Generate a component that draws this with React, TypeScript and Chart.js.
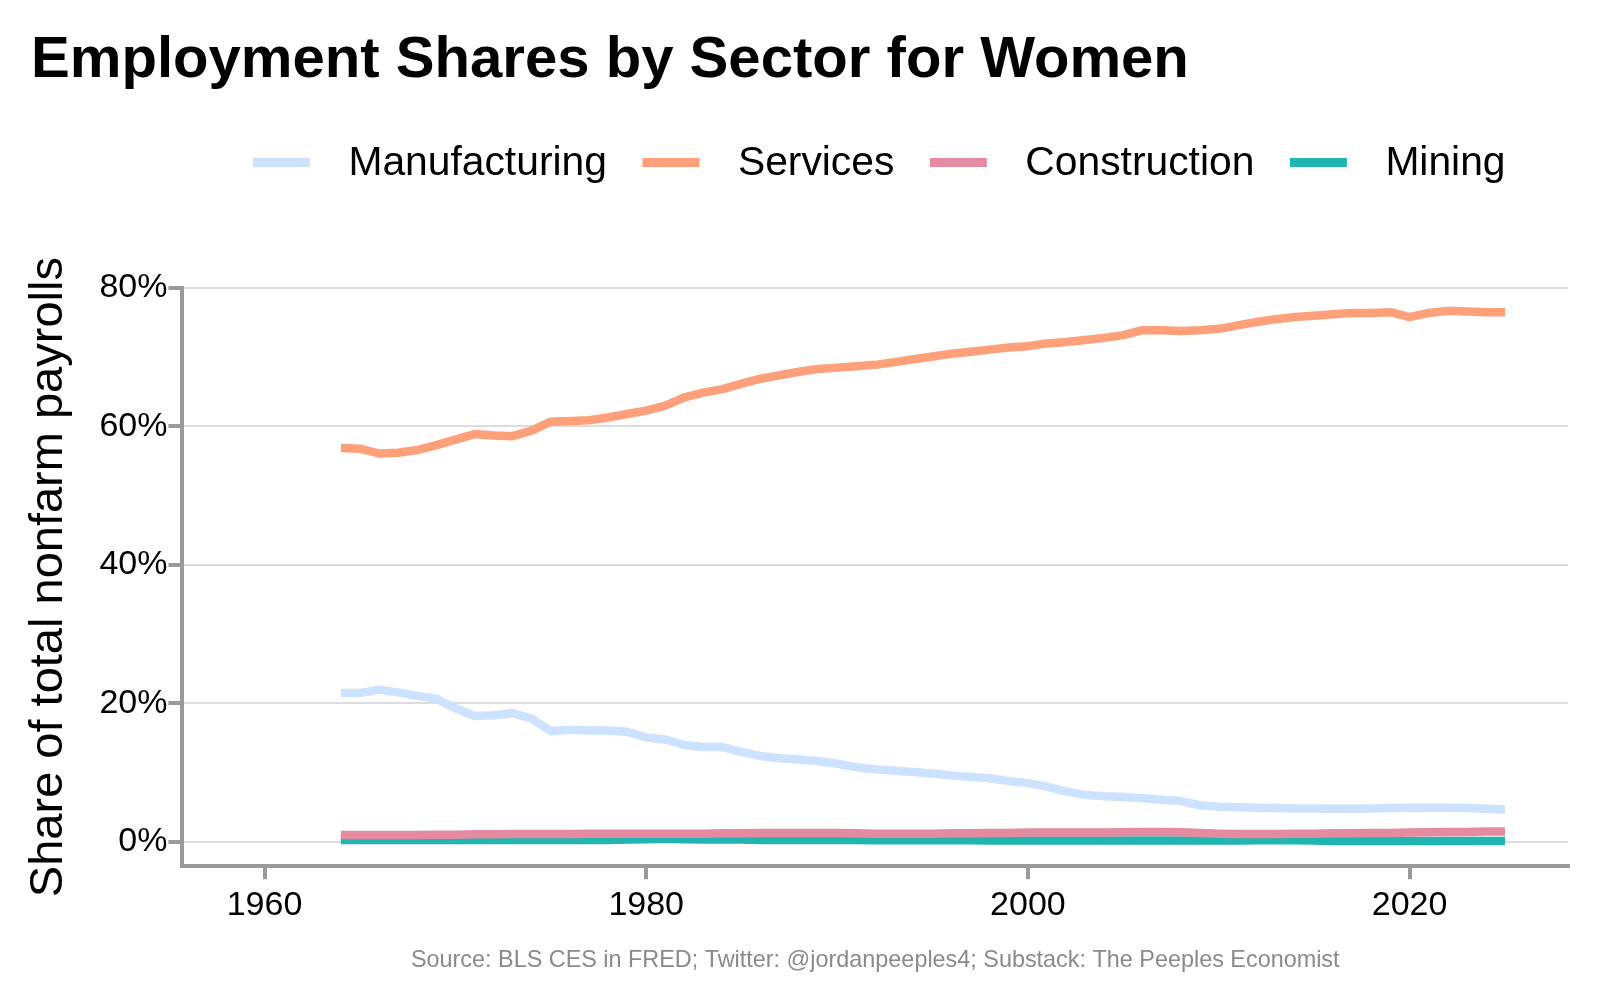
import { useEffect, useRef } from 'react'
import Chart from 'chart.js/auto'

const FONT = '"Liberation Sans", Arial, Helvetica, sans-serif'

const years = [
  1964, 1965, 1966, 1967, 1968, 1969, 1970, 1971, 1972, 1973,
  1974, 1975, 1976, 1977, 1978, 1979, 1980, 1981, 1982, 1983,
  1984, 1985, 1986, 1987, 1988, 1989, 1990, 1991, 1992, 1993,
  1994, 1995, 1996, 1997, 1998, 1999, 2000, 2001, 2002, 2003,
  2004, 2005, 2006, 2007, 2008, 2009, 2010, 2011, 2012, 2013,
  2014, 2015, 2016, 2017, 2018, 2019, 2020, 2021, 2022, 2023,
  2024, 2025
]

// shares of total nonfarm payrolls (%), women
const manufacturing = [
  21.5, 21.5, 22.0, 21.6, 21.1, 20.7, 19.3, 18.2, 18.3, 18.6,
  17.8, 16.0, 16.2, 16.1, 16.1, 15.9, 15.1, 14.8, 14.0, 13.7,
  13.7, 13.0, 12.4, 12.1, 11.9, 11.7, 11.3, 10.8, 10.5, 10.3,
  10.1, 9.9, 9.6, 9.4, 9.2, 8.8, 8.5, 8.0, 7.3, 6.8,
  6.6, 6.5, 6.3, 6.1, 5.9, 5.3, 5.1, 5.0, 4.95, 4.9,
  4.85, 4.85, 4.8, 4.8, 4.85, 4.9, 4.95, 4.95, 4.95, 4.9,
  4.8, 4.7
]

const services = [
  56.9, 56.8, 56.1, 56.2, 56.6, 57.3, 58.1, 58.9, 58.7, 58.6,
  59.4, 60.7, 60.8, 60.9, 61.3, 61.8, 62.3, 63.0, 64.2, 64.9,
  65.4, 66.2, 66.9, 67.4, 67.9, 68.3, 68.5, 68.7, 68.9, 69.3,
  69.7, 70.1, 70.5, 70.8, 71.1, 71.4, 71.6, 72.0, 72.2, 72.5,
  72.8, 73.2, 73.9, 73.9, 73.8, 73.9, 74.1, 74.6, 75.1, 75.5,
  75.8, 76.0, 76.2, 76.4, 76.4, 76.5, 75.8, 76.4, 76.7, 76.6,
  76.5, 76.5
]

const construction = [
  1.0, 1.0, 1.0, 1.0, 1.0, 1.05, 1.05, 1.1, 1.1, 1.15,
  1.15, 1.15, 1.15, 1.2, 1.2, 1.2, 1.2, 1.2, 1.2, 1.2,
  1.25, 1.25, 1.3, 1.3, 1.3, 1.3, 1.3, 1.25, 1.2, 1.2,
  1.2, 1.2, 1.25, 1.25, 1.3, 1.3, 1.35, 1.35, 1.35, 1.35,
  1.35, 1.4, 1.45, 1.45, 1.4, 1.3, 1.2, 1.15, 1.15, 1.15,
  1.2, 1.2, 1.25, 1.25, 1.3, 1.3, 1.35, 1.4, 1.45, 1.45,
  1.5, 1.5
]

const mining = [
  0.3, 0.3, 0.3, 0.3, 0.3, 0.3, 0.3, 0.3, 0.3, 0.3,
  0.3, 0.3, 0.3, 0.3, 0.3, 0.35, 0.4, 0.45, 0.4, 0.35,
  0.35, 0.35, 0.3, 0.3, 0.3, 0.3, 0.3, 0.3, 0.25, 0.25,
  0.25, 0.25, 0.25, 0.25, 0.2, 0.2, 0.2, 0.2, 0.2, 0.2,
  0.2, 0.2, 0.2, 0.2, 0.2, 0.2, 0.2, 0.2, 0.25, 0.25,
  0.25, 0.2, 0.15, 0.15, 0.15, 0.15, 0.15, 0.15, 0.15, 0.15,
  0.15, 0.15
]

const sectors = ['Manufacturing', 'Services', 'Construction', 'Mining']
const sectorColors = ['#cce2ff', '#ffa07a', '#e48aa1', '#20b5b0']
const sectorValues = [manufacturing, services, construction, mining]

const xTicks = [1960, 1980, 2000, 2020]
const yTicks = [0, 20, 40, 60, 80]

const title = 'Employment Shares by Sector for Women'
const caption = 'Source: BLS CES in FRED; Twitter: @jordanpeeples4; Substack: The Peeples Economist'

// title, legend and source line; legend + source are centred over the panel like ggplot does
const panelText = {
  id: 'panelText',
  afterDraw(chart: Chart) {
    const { ctx, chartArea } = chart
    const mid = (chartArea.left + chartArea.right) / 2
    ctx.save()

    ctx.font = `bold 58.1px ${FONT}`
    ctx.fillStyle = '#000'
    ctx.textAlign = 'left'
    ctx.textBaseline = 'middle'
    ctx.fillText(title, 31, 61)

    ctx.font = `40.8px ${FONT}`
    const sample = 57
    const keyGap = 38.5
    const itemGap = 35.5
    const widths = sectors.map(s => ctx.measureText(s).width)
    const total = widths.reduce((a, w) => a + sample + keyGap + w, 0) + itemGap * (sectors.length - 1)
    let x = mid - total / 2 + 4
    const y = 163
    sectors.forEach((s, i) => {
      ctx.fillStyle = sectorColors[i]
      ctx.fillRect(x, y - 5, sample, 9)
      x += sample + keyGap
      ctx.fillStyle = '#000'
      ctx.fillText(s, x, y + 1)
      x += widths[i] + itemGap
    })

    ctx.font = `23.4px ${FONT}`
    ctx.fillStyle = '#8a8a8a'
    ctx.textAlign = 'center'
    ctx.fillText(caption, mid, 961)
    ctx.restore()
  }
}

const App = () => {
  const canvasRef = useRef<HTMLCanvasElement>(null)

  useEffect(() => {
    document.body.style.margin = '0'
    if (!canvasRef.current) return

    const chart = new Chart(canvasRef.current, {
      type: 'line',
      data: {
        datasets: sectors.map((name, i) => ({
          label: name,
          data: years.map((yr, j) => ({ x: yr, y: sectorValues[i][j] })),
          borderColor: sectorColors[i],
          backgroundColor: sectorColors[i],
          borderWidth: 8.5,
          pointRadius: 0,
          tension: 0,
          borderCapStyle: 'butt' as const,
          borderJoinStyle: 'round' as const
        }))
      },
      options: {
        animation: false,
        responsive: false,
        maintainAspectRatio: false,
        layout: { padding: { left: 21, right: 32, top: 288, bottom: 68 } },
        plugins: {
          legend: { display: false },
          tooltip: { enabled: false },
          title: { display: false }
        },
        scales: {
          x: {
            type: 'linear',
            min: 1955.7,
            max: 2028.3,
            afterBuildTicks: scale => {
              scale.ticks = xTicks.map(v => ({ value: v }))
            },
            grid: { drawOnChartArea: false, color: '#9a9a9a', lineWidth: 4, tickLength: 13 },
            border: { color: '#9a9a9a', width: 4 },
            ticks: {
              color: '#000',
              font: { family: FONT, size: 34 },
              padding: 6,
              maxRotation: 0,
              callback: v => String(v)
            }
          },
          y: {
            min: -3.5,
            max: 80,
            afterBuildTicks: scale => {
              scale.ticks = yTicks.map(v => ({ value: v }))
            },
            grid: { color: '#dcdcdc', lineWidth: 2, tickColor: '#9a9a9a', tickWidth: 4, tickLength: 14 },
            border: { color: '#9a9a9a', width: 4 },
            ticks: {
              color: '#000',
              font: { family: FONT, size: 34 },
              padding: 1,
              callback: v => `${v}%`
            },
            title: {
              display: true,
              text: 'Share of total nonfarm payrolls',
              color: '#000',
              font: { family: FONT, size: 47 },
              padding: { top: 0, bottom: 21 }
            }
          }
        }
      },
      plugins: [panelText]
    })

    return () => chart.destroy()
  }, [])

  return <canvas ref={canvasRef} width={1600} height={1000} style={{ display: 'block' }} />
}

export default App
